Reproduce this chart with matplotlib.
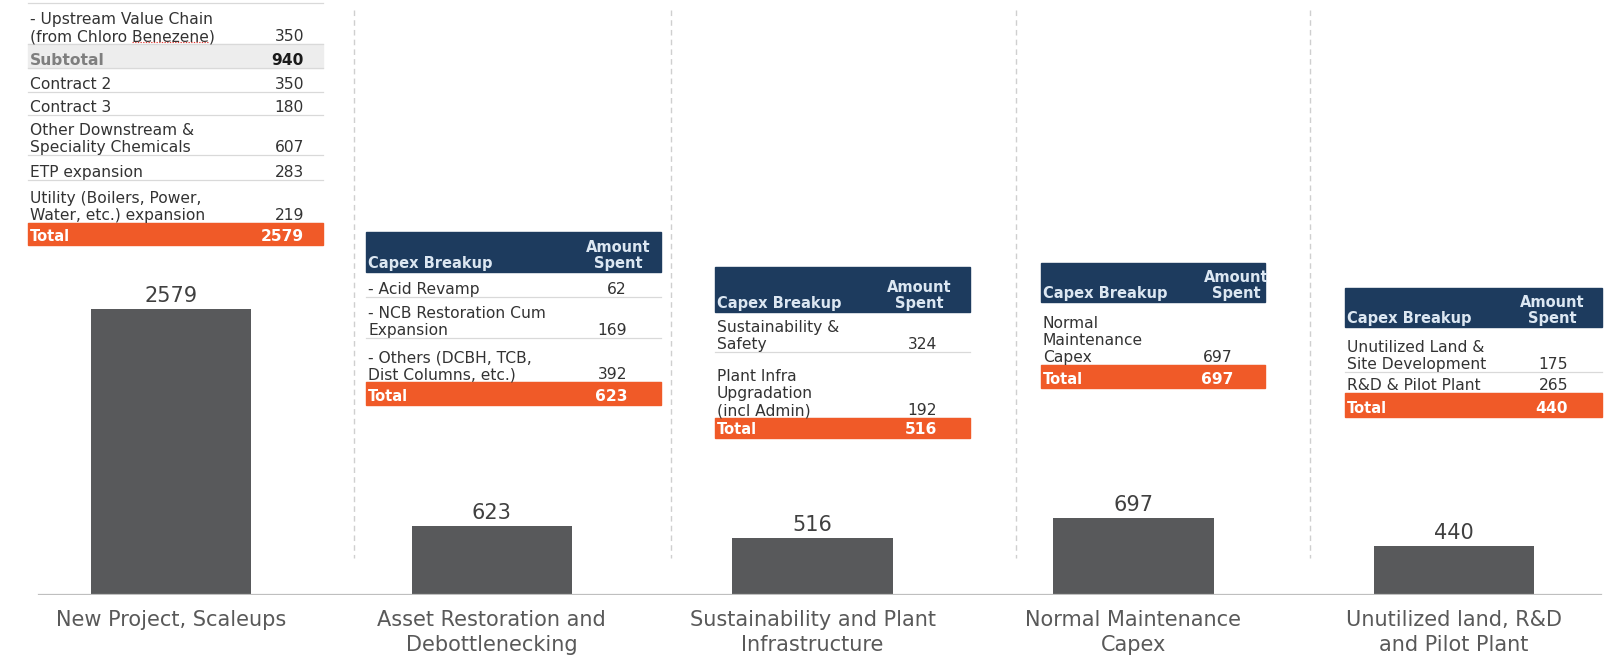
import matplotlib.pyplot as plt
from matplotlib.patches import Rectangle

plt.rcParams["font.family"] = ["DejaVu Sans"]

# ── data ────────────────────────────────────────────────────────────
categories = [
    "New Project, Scaleups",
    "Asset Restoration and\nDebottlenecking",
    "Sustainability and Plant\nInfrastructure",
    "Normal Maintenance\nCapex",
    "Unutilized land, R&D\nand Pilot Plant",
]
capex = [2579, 623, 516, 697, 440]

t1_items = ["- Upstream Value Chain\n(from Chloro Benezene)", "Subtotal",
            "Contract 2", "Contract 3", "Other Downstream &\nSpeciality Chemicals",
            "ETP expansion", "Utility (Boilers, Power,\nWater, etc.) expansion"]
t1_values = [350, 940, 350, 180, 607, 283, 219]

t2_items = ["- Acid Revamp", "- NCB Restoration Cum\nExpansion",
            "- Others (DCBH, TCB,\nDist Columns, etc.)"]
t2_values = [62, 169, 392]

t3_items = ["Sustainability &\nSafety", "Plant Infra\nUpgradation\n(incl Admin)"]
t3_values = [324, 192]

t4_items = ["Normal\nMaintenance\nCapex"]
t4_values = [697]

t5_items = ["Unutilized Land &\nSite Development", "R&D & Pilot Plant"]
t5_values = [175, 265]

# ── style ───────────────────────────────────────────────────────────
W, H = 1620, 655
BAR = "#58595B"
NAVY = "#1D3B5E"
ORANGE = "#F05A28"
GRID = "#D9D9D9"
TXT = "#333333"

fig = plt.figure(figsize=(W / 100, H / 100), dpi=100)

# bar axes: baseline 595 px from top, 0.1109 px per unit
ax = fig.add_axes([10.5 / W, 60 / H, 1604 / W, 595 / H])
ax.set_xlim(-0.5, 4.5)
ax.set_ylim(0, 595 / 0.1109)
x = range(len(categories))
bars = ax.bar(x, capex, width=0.5, color=BAR, zorder=2)
ax.bar_label(bars, labels=[str(v) for v in capex], padding=2,
             fontsize=15, color="#404040")
ax.axhline(0, xmin=(39 - 10.5) / 1604, xmax=(1601 - 10.5) / 1604,
           color="#BFBFBF", lw=1.6, zorder=3)
ax.set_xticks(list(x), categories, fontsize=15, color="#595959", linespacing=1.3)
ax.tick_params(axis="x", length=0, pad=11)
ax.set_yticks([])
for s in ax.spines.values():
    s.set_visible(False)

# overlay in pixel coordinates for the breakup tables
ov = fig.add_axes([0, 0, 1, 1], zorder=5)
ov.set_xlim(0, W)
ov.set_ylim(H, 0)
ov.axis("off")
ov.patch.set_alpha(0)

for sx in [354, 671, 1016, 1310]:
    ov.plot([sx, sx], [10, 558], color="#CFCFCF", lw=1, ls=(0, (4, 3)), zorder=1)

FS = 11.2
HFS = 10.5
LS = 1.16


def draw_table(left, right, val_right, head, amt_center, rows, items, values,
               total, subtotal_idx=None, top_rule=None):
    if top_rule is not None:
        ov.plot([left, right], [top_rule, top_rule], color=GRID, lw=0.9, zorder=2)
    if head is not None:
        ht, hb = head
        ov.add_patch(Rectangle((left, ht), right - left, hb - ht, color=NAVY, zorder=2))
        ov.text(left + 2, hb - 1, "Capex Breakup", color="#DCE7F2", fontsize=HFS,
                fontweight="bold", va="bottom", ha="left", zorder=3)
        ov.text(amt_center, hb - 1, "Amount\nSpent", color="#DCE7F2", fontsize=HFS,
                fontweight="bold", va="bottom", ha="center", multialignment="center",
                linespacing=1.12, zorder=3)
    for i, ((top, bot), lab, val) in enumerate(zip(rows, items, values)):
        is_sub = i == subtotal_idx
        if is_sub:
            ov.add_patch(Rectangle((left, top), right - left, bot - top,
                                   color="#EDEDED", zorder=1))
        ov.plot([left, right], [bot, bot], color=GRID, lw=0.9, zorder=2)
        ov.text(left + 2, bot, lab, fontsize=FS, va="bottom", ha="left",
                color="#7F7F7F" if is_sub else TXT,
                fontweight="bold" if is_sub else "normal",
                linespacing=LS, zorder=3)
        ov.text(val_right, bot, str(val), fontsize=FS, va="bottom", ha="right",
                color="#1A1A1A" if is_sub else TXT,
                fontweight="bold" if is_sub else "normal", zorder=3)
    tt, tb, tv = total
    ov.add_patch(Rectangle((left, tt), right - left, tb - tt, color=ORANGE, zorder=2))
    ov.text(left + 2, tb - 1, "Total", fontsize=HFS, fontweight="bold", color="white",
            va="bottom", ha="left", zorder=3)
    ov.text(val_right, tb - 1, str(tv), fontsize=FS, fontweight="bold", color="white",
            va="bottom", ha="right", zorder=3)


draw_table(28, 323, 304, None, None,
           [(3, 44), (44, 68), (68, 92), (92, 115), (115, 155),
            (155, 180), (180, 223)],
           t1_items, t1_values, (223, 245, capex[0]), subtotal_idx=1, top_rule=3)
draw_table(366, 661, 627, (232, 272), 618,
           [(272, 297), (297, 338), (338, 382)],
           t2_items, t2_values, (382, 405, capex[1]))
draw_table(715, 970, 937, (267, 312), 919,
           [(312, 352), (352, 418)],
           t3_items, t3_values, (418, 438, capex[2]))
draw_table(1041, 1265, 1233, (263, 302), 1236,
           [(302, 365)],
           t4_items, t4_values, (365, 388, capex[3]))
draw_table(1345, 1602, 1568, (288, 327), 1552,
           [(327, 372), (372, 393)],
           t5_items, t5_values, (393, 417, capex[4]))

# spell-check squiggle under "Benezene"
r = fig.canvas.get_renderer()
probe = ov.text(30, 40, "(from Chloro ", fontsize=FS)
x0 = 30 + probe.get_window_extent(r).width
probe.set_text("(from Chloro Benezene")
x1 = 30 + probe.get_window_extent(r).width
probe.remove()
ov.plot([x0, x1], [41.5, 41.5], color="#E0403A", lw=0.8, ls=(0, (1.2, 1.2)), zorder=4)

fig.savefig("out.png", dpi=100, facecolor="white")
